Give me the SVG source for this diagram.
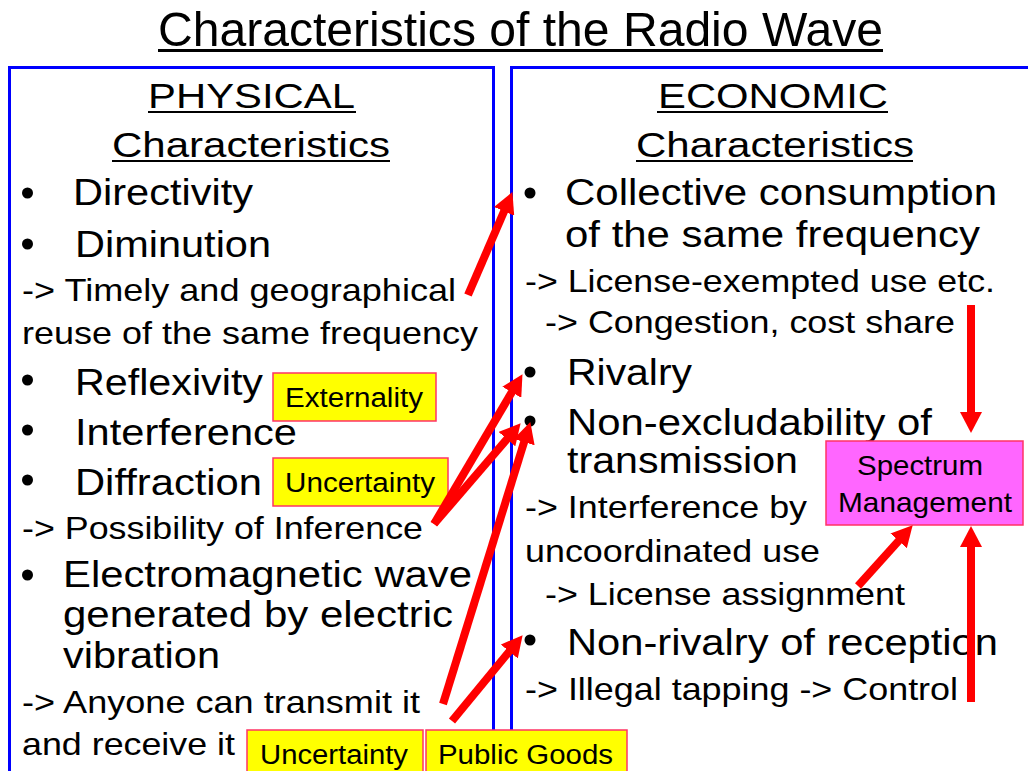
<svg xmlns="http://www.w3.org/2000/svg" width="1028" height="771" viewBox="0 0 1028 771">
<defs>
<style>
text{font-family:"Liberation Sans",Arial,sans-serif;fill:#000}
.title{font-size:48px}
.head{font-size:35px}
.big{font-size:37px}
.small{font-size:32px}
.lab{font-size:27px}
.spec{font-size:28px}
.ul{stroke:#000;stroke-width:2}
.panel{fill:none;stroke:#0000FF;stroke-width:3}
.tag{fill:#FFFF00;stroke:#FF3366;stroke-width:1.5}
.bul{fill:#000}
.arr{stroke:#FF0000;stroke-width:8;fill:none;marker-end:url(#ah)}
</style>
<marker id="ah" markerUnits="userSpaceOnUse" markerWidth="21" markerHeight="22" viewBox="0 0 21 22" refX="1" refY="11" orient="auto">
<path d="M0,0 L21,11 L0,22 Z" fill="#FF0000"/>
</marker>
</defs>
<rect width="1028" height="771" fill="#FFFFFF"/>

<g id="title">
<text class="title" x="158" y="46" textLength="725" lengthAdjust="spacingAndGlyphs">Characteristics of the Radio Wave</text>
<line x1="158" y1="50.5" x2="883" y2="50.5" stroke="#000" stroke-width="3"/>
</g>

<g id="physical">
<rect class="panel" x="9.5" y="67.5" width="484" height="740"/>
<text class="head" x="148" y="108" textLength="207" lengthAdjust="spacingAndGlyphs">PHYSICAL</text>
<line class="ul" x1="148" y1="112" x2="356" y2="112"/>
<text class="head" x="112" y="157" textLength="278" lengthAdjust="spacingAndGlyphs">Characteristics</text>
<line class="ul" x1="112" y1="161" x2="390" y2="161"/>
<circle class="bul" cx="27.5" cy="193" r="5.5"/>
<text class="big" x="73" y="205" textLength="180" lengthAdjust="spacingAndGlyphs">Directivity</text>
<circle class="bul" cx="27.5" cy="244" r="5.5"/>
<text class="big" x="75" y="257" textLength="196" lengthAdjust="spacingAndGlyphs">Diminution</text>
<text class="small" x="22" y="301" textLength="434" lengthAdjust="spacingAndGlyphs">-&gt; Timely and geographical</text>
<text class="small" x="22" y="344" textLength="456" lengthAdjust="spacingAndGlyphs">reuse of the same frequency</text>
<circle class="bul" cx="27.5" cy="380" r="5.5"/>
<text class="big" x="75" y="395" textLength="188" lengthAdjust="spacingAndGlyphs">Reflexivity</text>
<circle class="bul" cx="27.5" cy="430" r="5.5"/>
<text class="big" x="75" y="445" textLength="222" lengthAdjust="spacingAndGlyphs">Interference</text>
<circle class="bul" cx="27.5" cy="480" r="5.5"/>
<text class="big" x="75" y="495" textLength="187" lengthAdjust="spacingAndGlyphs">Diffraction</text>
<text class="small" x="22" y="539" textLength="401" lengthAdjust="spacingAndGlyphs">-&gt; Possibility of Inference</text>
<circle class="bul" cx="27.5" cy="575" r="5.5"/>
<text class="big" x="63" y="587" textLength="409" lengthAdjust="spacingAndGlyphs">Electromagnetic wave</text>
<text class="big" x="63" y="627" textLength="390" lengthAdjust="spacingAndGlyphs">generated by electric</text>
<text class="big" x="63" y="668" textLength="157" lengthAdjust="spacingAndGlyphs">vibration</text>
<text class="small" x="22" y="713" textLength="398" lengthAdjust="spacingAndGlyphs">-&gt; Anyone can transmit it</text>
<text class="small" x="22" y="755" textLength="213" lengthAdjust="spacingAndGlyphs">and receive it</text>
</g>

<g id="economic">
<rect class="panel" x="511.5" y="67.5" width="540" height="740"/>
<text class="head" x="658" y="108" textLength="230" lengthAdjust="spacingAndGlyphs">ECONOMIC</text>
<line class="ul" x1="657" y1="112" x2="888" y2="112"/>
<text class="head" x="636" y="157" textLength="278" lengthAdjust="spacingAndGlyphs">Characteristics</text>
<line class="ul" x1="636" y1="161" x2="913" y2="161"/>
<circle class="bul" cx="530" cy="193" r="5.5"/>
<text class="big" x="565" y="205" textLength="432" lengthAdjust="spacingAndGlyphs">Collective consumption</text>
<text class="big" x="565" y="247" textLength="415" lengthAdjust="spacingAndGlyphs">of the same frequency</text>
<text class="small" x="525" y="292" textLength="470" lengthAdjust="spacingAndGlyphs">-&gt; License-exempted use etc.</text>
<text class="small" x="545" y="333" textLength="410" lengthAdjust="spacingAndGlyphs">-&gt; Congestion, cost share</text>
<circle class="bul" cx="530" cy="372" r="5.5"/>
<text class="big" x="567" y="385" textLength="125" lengthAdjust="spacingAndGlyphs">Rivalry</text>
<circle class="bul" cx="530" cy="421" r="5.5"/>
<text class="big" x="567" y="435" textLength="365" lengthAdjust="spacingAndGlyphs">Non-excludability of</text>
<text class="big" x="567" y="473" textLength="231" lengthAdjust="spacingAndGlyphs">transmission</text>
<text class="small" x="525" y="518" textLength="282" lengthAdjust="spacingAndGlyphs">-&gt; Interference by</text>
<text class="small" x="525" y="562" textLength="295" lengthAdjust="spacingAndGlyphs">uncoordinated use</text>
<text class="small" x="545" y="605" textLength="360" lengthAdjust="spacingAndGlyphs">-&gt; License assignment</text>
<circle class="bul" cx="530" cy="640" r="5.5"/>
<text class="big" x="567" y="655" textLength="431" lengthAdjust="spacingAndGlyphs">Non-rivalry of reception</text>
<text class="small" x="525" y="700" textLength="433" lengthAdjust="spacingAndGlyphs">-&gt; Illegal tapping -&gt; Control</text>
</g>

<g id="spectrum-management">
<rect x="826" y="441" width="197" height="84" fill="#FF66FF" stroke="#FF3366" stroke-width="1.5"/>
<text class="spec" x="857" y="475" textLength="126" lengthAdjust="spacingAndGlyphs">Spectrum</text>
<text class="spec" x="838" y="512" textLength="174" lengthAdjust="spacingAndGlyphs">Management</text>
</g>

<g id="tag-externality">
<rect class="tag" x="273" y="373" width="163" height="48"/>
<text class="lab" x="285" y="407" textLength="138" lengthAdjust="spacingAndGlyphs">Externality</text>
</g>
<g id="tag-uncertainty-1">
<rect class="tag" x="273" y="458" width="175" height="48"/>
<text class="lab" x="285" y="492" textLength="150" lengthAdjust="spacingAndGlyphs">Uncertainty</text>
</g>
<g id="tag-uncertainty-2">
<rect class="tag" x="247" y="730" width="176" height="50"/>
<text class="lab" x="260" y="764" textLength="148" lengthAdjust="spacingAndGlyphs">Uncertainty</text>
</g>
<g id="tag-public-goods">
<rect class="tag" x="426" y="730" width="201" height="50"/>
<text class="lab" x="438" y="764" textLength="175" lengthAdjust="spacingAndGlyphs">Public Goods</text>
</g>

<g id="connectors">
<line class="arr" x1="468" y1="295" x2="504.5" y2="210.4"/>
<line class="arr" x1="434" y1="524" x2="512.3" y2="391.4"/>
<line class="arr" x1="434" y1="524" x2="507.6" y2="438.4"/>
<line class="arr" x1="443" y1="704" x2="524.4" y2="441.1"/>
<line class="arr" x1="452" y1="721" x2="509.9" y2="650.7"/>
<line class="arr" x1="971" y1="305" x2="971" y2="413"/>
<line class="arr" x1="858" y1="586" x2="899.3" y2="540.1"/>
<line class="arr" x1="971" y1="702" x2="971" y2="546"/>
</g>
</svg>
